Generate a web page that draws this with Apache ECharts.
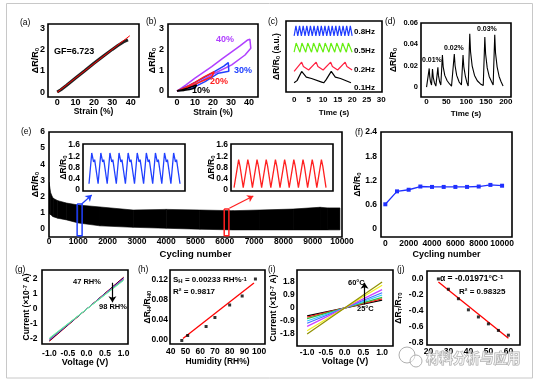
<!DOCTYPE html>
<html><head><meta charset="utf-8">
<script src="https://cdn.jsdelivr.net/npm/echarts@6/dist/echarts.min.js"></script>
<style>html,body{margin:0;padding:0;background:#fff}#c{width:541px;height:383px}</style>
</head><body><div id="c"></div>
<script>
// ---------- data ----------
// (a) strain response
const aStrain = [0, 2, 5, 10, 15, 20, 25, 30, 33, 36, 38.5];
const aDR = [0, 0.11, 0.31, 0.66, 1.0, 1.35, 1.68, 2.0, 2.18, 2.35, 2.45];
const aFitX = [0, 39.5];
const aFitY = [-0.01, 2.64];
// (b) hysteresis loops [strain, dR/R0]
const b10 = [[0,0],[3,0.06],[6,0.14],[9,0.23],[10.9,0.29],[10,0.14],[7,0.07],[4,0.03],[0,0]];
const b20 = [[0,0],[5,0.18],[10,0.42],[15,0.68],[20.7,0.93],[19.3,0.69],[15,0.52],[11.7,0.39],[6,0.15],[0,0]];
const b30 = [[0,0],[7,0.28],[14,0.6],[21,0.95],[26,1.2],[28.5,1.37],[29.4,1.42],[28.8,0.95],[23,0.86],[15.6,0.45],[8.1,0.13],[0,0]];
const b40 = [[0,0],[5,0.3],[10,0.62],[19.3,1.18],[25,1.55],[30,1.87],[35,2.18],[39.3,2.47],[40.5,2.5],[41,2.07],[37.8,1.74],[30.4,1.26],[21,0.86],[11.7,0.39],[5,0.12],[0,0]];
// (c) frequency response (a.u.)
const cBlueT = [0,0.625,1.25,1.875,2.5,3.125,3.75,4.375,5,5.625,6.25,6.875,7.5,8.125,8.75,9.375,10,10.625,11.25,11.875,12.5,13.125,13.75,14.375,15,15.625,16.25,16.875,17.5,18.125,18.75,19.375,20];
const cBlueV = [7.9,9.3,7.9,9.3,7.9,9.3,7.9,9.3,7.9,9.3,7.9,9.3,7.9,9.3,7.9,9.3,7.9,9.3,7.9,9.3,7.9,9.3,7.9,9.3,7.9,9.3,7.9,9.3,7.9,9.3,7.9,9.3,7.9];
const cGreenT = [0,0.7,2,2.7,4,4.7,6,6.7,8,8.7,10,10.7,12,12.7,14,14.7,16,16.7,18,18.7,20];
const cGreenV = [5.6,6.9,5.6,6.9,5.6,6.9,5.6,6.9,5.6,6.9,5.6,6.9,5.6,6.9,5.6,6.9,5.6,6.9,5.6,6.9,5.6];
const cRedT = [0,2.6,3.2,5,5.3,7.6,8.2,10,10.3,12.6,13.2,15,15.3,17.6,18.2,20];
const cRedV = [2.9,4.2,3.6,3.1,3.0,4.2,3.6,3.1,3.0,4.2,3.6,3.1,3.0,4.2,3.6,3.1];
const cBlackT = [0,1,2.6,4.2,6,9.5,10.2,11,12.8,14.2,16,19.6];
const cBlackV = [1.3,1.6,2.9,2.1,1.9,1.4,1.3,1.7,2.9,2.1,1.9,1.3];
// (d) small strain response [time, dR/R0]
const dPts = [[0,0],[5,0],[6.7,0.0175],[8,0.010],[10,0.005],[12.6,0.002],[14,0.001],[15,0.017],[17,0.009],[20,0.004],[23.5,0.001],[27,0.001],[28.6,0.0185],[30,0.011],[33,0.005],[36,0.002],[39,0.001],[40,0.030],[42,0.019],[46,0.011],[52,0.006],[58,0.003],[63,0.001],[68,0.001],[70,0.031],[72,0.020],[76,0.011],[82,0.005],[88,0.002],[91,0.001],[92,0.030],[94,0.019],[98,0.010],[102,0.004],[105,0.001],[107,0.001],[109,0.050],[111,0.033],[115,0.020],[121,0.011],[128,0.006],[136,0.003],[143,0.0015],[146,0.001],[147,0.047],[149,0.031],[153,0.018],[158,0.010],[164,0.005],[168,0.002],[171,0.001],[172,0.049],[174,0.032],[178,0.019],[183,0.010],[188,0.005],[193,0.001]];
// (e) cycling envelope
const eX = [0, 60, 140, 300, 600, 1000, 1740, 2870, 4000, 5150, 6280, 7200, 8330, 9250, 9520, 9930];
const eUpper = [2.9, 2.2, 1.9, 1.75, 1.6, 1.48, 1.36, 1.17, 1.21, 1.17, 1.13, 1.17, 1.23, 1.34, 1.3, 1.3];
const eLower = [0.95, 0.88, 0.76, 0.66, 0.56, 0.37, 0.19, 0.1, 0.04, -0.02, -0.06, -0.06, -0.06, -0.06, -0.06, -0.06];
const eBlueRect = [[960,1.55],[1130,1.55],[1130,-0.43],[960,-0.43],[960,1.55]];
const eRedRect = [[5980,1.23],[6140,1.23],[6140,-0.43],[5980,-0.43],[5980,1.23]];
// (e) insets
const ebX = [0,0.3,0.5,0.62,1,1.3,1.5,1.62,2,2.3,2.5,2.62,3,3.3,3.5,3.62,4,4.3,4.5,4.62,5,5.3,5.5,5.62,6,6.3,6.5,6.62,7,7.3,7.5,7.62,8,8.3,8.5,8.62,9,9.3,9.5,9.62,10];
const ebY = [0.22,1.32,1.0,1.08,0.22,1.32,1.0,1.08,0.22,1.32,1.0,1.08,0.22,1.32,1.0,1.08,0.22,1.32,1.0,1.08,0.22,1.32,1.0,1.08,0.22,1.32,1.0,1.08,0.22,1.32,1.0,1.08,0.22,1.32,1.0,1.08,0.22,1.32,1.0,1.08,0.22];
const erX = [0,0.5,0.65,0.75,1,1.5,1.65,1.75,2,2.5,2.65,2.75,3,3.5,3.65,3.75,4,4.5,4.65,4.75,5,5.5,5.65,5.75,6,6.5,6.65,6.75,7,7.5,7.65,7.75,8,8.5,8.65,8.75,9,9.5,9.65,9.75,10];
const erY = [0.08,1.08,0.85,0.9,0.08,1.08,0.85,0.9,0.08,1.08,0.85,0.9,0.08,1.08,0.85,0.9,0.08,1.08,0.85,0.9,0.08,1.08,0.85,0.9,0.08,1.08,0.85,0.9,0.08,1.08,0.85,0.9,0.08,1.08,0.85,0.9,0.08,1.08,0.85,0.9,0.08];
// (f)
const fX = [0,1000,2000,3000,4000,5000,6000,7000,8000,9000,10000];
const fY = [0.61,0.93,0.97,1.05,1.04,1.04,1.04,1.04,1.05,1.09,1.07];
// (g) I-V at humidity
const gV = [-1, 1];
const gIpos = [2.12, 2.09, 2.05, 2.01, 1.97, 1.94, 1.9];
const gIneg = [-2.15, -2.11, -2.07, -2.03, -2.0, -1.97, -1.93];
const gColors = ['#ff2020','#000000','#2040ff','#ff30ff','#a0a000','#20c8d8','#70f0a0'];
// (h)
const hRH = [47.5, 51.5, 64, 70, 80, 88.5, 97.5];
const hDR = [-0.001, 0.009, 0.027, 0.045, 0.07, 0.088, 0.122];
const hFitX = [48.3, 96.5];
const hFitY = [0.003, 0.114];
// (i) I-V at temperature 25..60 C
const iV = [-1, 1];
const iIpos = [0.55, 0.63, 0.73, 0.9, 1.06, 1.27, 1.57, 1.8];
const iIneg = [-0.55, -0.63, -0.73, -0.9, -1.06, -1.27, -1.57, -1.8];
const iColors = ['#000000','#ff2020','#30c040','#30c8ff','#4070ff','#cc40ff','#f0f020','#909000'];
// (j)
const jT = [25, 30, 35, 40, 45, 50, 55, 60];
const jDR = [0.0, -0.13, -0.25, -0.39, -0.48, -0.567, -0.65, -0.71];
const jFitX = [25, 60];
const jFitY = [-0.04, -0.75];
// tick labels
const aXt=[0,10,20,30,40], aYt=[0,1,2,3];
const cXt=[0,5,10,15,20,25,30];
const dXt=[0,50,100,150,200], dYt=[0,0.02,0.04,0.06];
const eXt=[0,1000,2000,3000,4000,5000,6000,7000,8000,9000,10000], eYt=[0,1,2,3,4,5,6];
const insYt=[0,0.4,0.8,1.2,1.6];
const fXt=[0,2000,4000,6000,8000,10000], fYt=[0,0.6,1.2,1.8,2.4];
const gXt=[-1,-0.5,0,0.5,1], gYt=[-2,-1,0,1,2];
const hXt=[40,50,60,70,80,90,100], hYt=[0,0.04,0.08,0.12];
const iXt=[-1,-0.5,0,0.5,1], iYt=[-1.8,-0.9,0,0.9,1.8];
const jXt=[20,30,40,50,60], jYt=[0,-0.2,-0.4,-0.6,-0.8];

// ---------- helpers ----------
const F = '"Liberation Sans", Arial, sans-serif';
const zip = (xs, ys) => xs.map((x, i) => [x, ys[i]]);
function rich(fs){
  const b = {fontWeight:'bold', fontFamily:F, color:'#000'};
  return {
    n: Object.assign({fontSize:fs}, b),
    s: Object.assign({fontSize:Math.round(fs*0.72), verticalAlign:'bottom'}, b),
    p: Object.assign({fontSize:Math.round(fs*0.72), verticalAlign:'top'}, b)
  };
}
function grid(l,t,w,h,bg){
  return {left:l, top:t, width:w, height:h, show:true, borderColor:'#000', borderWidth:1.6,
    backgroundColor:bg||'transparent', containLabel:false, outerBoundsMode:'none'};
}
function axis(gi, min, max, ticks, o){
  o = o || {};
  const has = ticks.length > 0;
  return {
    type:'value', gridIndex:gi, min:min, max:max,
    axisLine:{show:false, onZero:false}, splitLine:{show:false},
    axisTick:{show:false},
    axisLabel:{show:has, customValues:has?ticks:undefined, color:'#000', fontFamily:F, fontWeight:'bold',
      fontSize:o.fs||9, margin:(o.m==null?3:o.m), formatter:o.fmt||(v=>String(v))},
    name:o.name||'', nameLocation:'middle', nameGap:o.gap||10, nameMoveOverlap:false,
    nameTextStyle:{color:'#000', fontFamily:F, fontWeight:'bold', fontSize:o.nfs||9, rich:rich(o.nfs||9)}
  };
}
function L(gi, data, color, width, extra){
  return Object.assign({type:'line', xAxisIndex:gi, yAxisIndex:gi, data:data, symbol:'none',
    lineStyle:{color:color, width:width}, itemStyle:{color:color}, z:3, silent:true}, extra||{});
}
function arrowLine(gi, p1, p2, color){
  return {type:'line', xAxisIndex:gi, yAxisIndex:gi, data:[], symbol:'none', silent:true, z:5,
    markLine:{silent:true, symbol:['none','arrow'], symbolSize:6, animation:false,
      lineStyle:{color:color, width:1.2, type:'solid'}, label:{show:false},
      data:[[{coord:p1},{coord:p2}]]}};
}
function T(text, x, y, fs, o){
  o = o || {};
  const st = {text:text, x:x, y:y, fill:o.color||'#000', align:'left', verticalAlign:'middle',
    font:(o.bold===false?'normal ':'bold ')+fs+'px '+F};
  if (o.rich) st.rich = o.rich;
  return {type:'text', z:100, silent:true, style:st};
}
const DR0 = '{n|ΔR/R}{s|0}';
const f1 = v => v===0 ? '0' : v.toFixed(1);
const f2 = v => v.toFixed(2);

// ---------- option ----------
const grids = [
  grid(48,24,91,73),      //0 a
  grid(168,24,90,73),     //1 b
  grid(286,21,96,71),     //2 c
  grid(421,23,90,74),     //3 d
  grid(49,132,293,105),   //4 e
  grid(83,144,102,47,'#fff'),  //5 e inset blue
  grid(231,144,102,47,'#fff'), //6 e inset red
  grid(381,132,131,105),  //7 f
  grid(42,270,86,74),     //8 g
  grid(170,270,95,74),    //9 h
  grid(297,270,96,76),    //10 i
  grid(427,271,93,74)     //11 j
];
const xAxes = [
  axis(0,-5,44.5,aXt,{fs:9,m:1,name:'Strain (%)',nfs:8.5,gap:10.5}),
  axis(1,-5,45,aXt,{fs:9,m:1,name:'Strain (%)',nfs:8.5,gap:11.5}),
  axis(2,-2.8,30.3,cXt,{fs:8,m:4,name:'Time (s)',nfs:8,gap:16.5}),
  axis(3,-14,213,dXt,{fs:8,m:0.5,name:'Time (s)',nfs:8,gap:13}),
  axis(4,0,10000,eXt,{fs:8.5,m:0.5,name:'Cycling number',nfs:9.5,gap:12.5}),
  axis(5,-0.66,10.55,[],{}),
  axis(6,-0.33,10.76,[],{}),
  axis(7,-370,10850,fXt,{fs:8.5,m:2,name:'Cycling number',nfs:9,gap:13}),
  axis(8,-1.2,1.12,gXt,{fs:8.5,m:5,name:'Voltage (V)',nfs:9,gap:14,fmt:v=>v.toFixed(1)}),
  axis(9,39.5,104,hXt,{fs:8.5,m:3.5,name:'Humidity (RH%)',nfs:8.5,gap:13.5}),
  axis(10,-1.27,1.29,iXt,{fs:8.5,m:2,name:'Voltage (V)',nfs:9,gap:11,fmt:v=>v.toFixed(1)}),
  axis(11,19.3,65.8,jXt,{fs:8.5,m:2.2})
];
const yAxes = [
  axis(0,-0.23,3.19,aYt,{fs:9,m:3,name:DR0,nfs:9,gap:8}),
  axis(1,-0.29,3.24,aYt,{fs:9,m:4,name:DR0,nfs:9,gap:11}),
  axis(2,0,10,[],{name:'{n|ΔR/R}{s|0}{n| (a.u.)}',nfs:8.5,gap:5}),
  axis(3,-0.0092,0.06,dYt,{fs:7.5,m:3,name:DR0,nfs:8.5,gap:23,fmt:v=>v===0?'0':v.toFixed(2)}),
  axis(4,-0.5,6,eYt,{fs:8.5,m:4,name:DR0,nfs:9,gap:9}),
  axis(5,-0.04,1.64,insYt,{fs:8.5,m:3,name:DR0,nfs:8.5,gap:15,fmt:f1}),
  axis(6,-0.04,1.64,insYt,{fs:8.5,m:3,name:DR0,nfs:8.5,gap:15,fmt:f1}),
  axis(7,-0.2,2.4,fYt,{fs:8.5,m:4,name:DR0,nfs:8.5,gap:19,fmt:f1}),
  axis(8,-2.33,2.6,gYt,{fs:8.5,m:4.5,name:'{n|Current (×10}{p|-7}{n| A)}',nfs:8.5,gap:11}),
  axis(9,-0.008,0.14,hYt,{fs:8.5,m:2,name:'{n|ΔR}{s|H}{n|/R}{s|H0}',nfs:8.5,gap:18,fmt:f2}),
  axis(10,-2.63,2.63,iYt,{fs:8.5,m:2.3,name:'{n|Current (×10}{p|-7}{n| A)}',nfs:8.5,gap:19,fmt:f1}),
  axis(11,-0.834,0.1,jYt,{fs:8.5,m:3.5,name:'{n|ΔR}{s|T}{n|/R}{s|T0}',nfs:8.5,gap:24,fmt:v=>v.toFixed(1)})
];

const series = [];
// (a)
series.push(L(0, zip(aStrain,aDR), '#222', 3));
series.push(L(0, zip(aFitX,aFitY), '#ff0000', 1, {z:4}));
// (b)
series.push(L(1, b40, '#b040ff', 1.5));
series.push(L(1, b30, '#2040ff', 1.5));
series.push(L(1, b20, '#ff2020', 1.5));
series.push(L(1, b10, '#000000', 1.5));
// (c)
series.push(L(2, zip(cBlueT,cBlueV), '#1f3cff', 1.2));
series.push(L(2, zip(cGreenT,cGreenV), '#66ee11', 1.2));
series.push(L(2, zip(cRedT,cRedV), '#ff2040', 1.2));
series.push(L(2, zip(cBlackT,cBlackV), '#000000', 1.2));
// (d)
series.push(L(3, dPts, '#000000', 1.1));
// (e) band between lower and upper envelopes
series.push({type:'custom', xAxisIndex:4, yAxisIndex:4, silent:true, z:2, clip:true,
  data: eX.map((x,i)=>[x, eUpper[i], eLower[i]]),
  encode:{x:0, y:[1,2]},
  renderItem:function(params, api){
    const i = params.dataIndex;
    if (i >= eX.length - 1) return null;
    const pts = [api.coord([eX[i], eLower[i]]), api.coord([eX[i], eUpper[i]]),
                 api.coord([eX[i+1], eUpper[i+1]]), api.coord([eX[i+1], eLower[i+1]])];
    return {type:'polygon', shape:{points:pts}, style:{fill:'#000', stroke:'#000', lineWidth:0.6}};
  }});
series.push(L(4, eBlueRect, '#2040ff', 1.5, {z:4}));
series.push(L(4, eRedRect, '#ff2020', 1.5, {z:4}));
series.push(arrowLine(4, [1116,1.54], [1457,2.1], '#2040ff'));
series.push(arrowLine(4, [6154,1.28], [6973,2.04], '#ff2020'));
// insets
series.push(L(5, zip(ebX,ebY), '#2040ff', 1.3));
series.push(L(6, zip(erX,erY), '#ff2020', 1.3));
// (f)
series.push(L(7, zip(fX,fY), '#2030ff', 1.3, {symbol:'rect', symbolSize:4, showSymbol:true}));
// (g)
gIpos.forEach((v,k)=>{ series.push(L(8, [[gV[0],gIneg[k]],[gV[1],v]], gColors[k], 1)); });
series.push(arrowLine(8, [0.7,1.75], [0.7,0.45], '#000'));
// (h)
series.push(L(9, zip(hFitX,hFitY), '#ff0000', 1.3));
series.push({type:'scatter', xAxisIndex:9, yAxisIndex:9, data:zip(hRH,hDR), symbol:'rect', symbolSize:3,
  itemStyle:{color:'#000'}, z:5, silent:true});
// (i)
iIpos.forEach((v,k)=>{ series.push(L(10, [[iV[0],iIneg[k]],[iV[1],v]], iColors[k], 1.2)); });
series.push(arrowLine(10, [0.53,0.25], [0.53,1.75], '#000'));
// (j)
series.push(L(11, zip(jFitX,jFitY), '#ff0000', 1.3));
series.push({type:'scatter', xAxisIndex:11, yAxisIndex:11, data:zip(jT,jDR), symbol:'rect', symbolSize:3,
  itemStyle:{color:'#000'}, z:5, silent:true});

const R8 = rich(8), R85 = rich(8.5);
const graphics = [
  {type:'rect', z:0, silent:true, shape:{x:6.5, y:3.5, width:526, height:374.5},
    style:{fill:'none', stroke:'#c8c8c8', lineWidth:1}},
  T('(a)', 20, 23, 8.5, {bold:false}),
  T('GF=6.723', 54, 52, 9),
  T('(b)', 146, 22, 8.5, {bold:false}),
  T('40%', 216, 40, 9, {color:'#b040ff'}),
  T('30%', 234, 71, 9, {color:'#2040ff'}),
  T('20%', 210, 82, 9, {color:'#ff2020'}),
  T('10%', 192, 91, 9),
  T('(c)', 268, 22, 8.5, {bold:false}),
  T('0.8Hz', 354, 32, 8), T('0.5Hz', 354, 51, 8), T('0.2Hz', 354, 70, 8), T('0.1Hz', 354, 88, 8),
  T('(d)', 385, 22, 8.5, {bold:false}),
  T('0.01%', 422, 60, 7), T('0.02%', 444, 48, 7), T('0.03%', 477, 29, 7),
  T('(e)', 21, 132, 8.5, {bold:false}),
  T('(f)', 355, 133, 8.5, {bold:false}),
  T('(g)', 15, 270, 8.5, {bold:false}),
  T('47 RH%', 73, 282, 7.5), T('98 RH%', 99, 307, 7.5),
  T('(h)', 138, 270, 8.5, {bold:false}),
  T('{n|S}{s|H}{n| = 0.00233 RH%}{p|-1}', 173, 280, 8, {rich:R8}),
  T('R² = 0.9817', 173, 292, 8),
  T('(i)', 268, 270, 8.5, {bold:false}),
  T('60°C', 348, 283, 7.5), T('25°C', 357, 309, 7.5),
  T('(j)', 397, 270, 8.5, {bold:false}),
  T('{n|α = -0.01971°C}{p|-1}', 440, 279, 8.5, {rich:R85}),
  T('R² = 0.98325', 459, 292, 8),
  // watermark
  {type:'circle', z:101, silent:true, shape:{cx:407, cy:355, r:8}, style:{fill:'rgba(255,255,255,0.5)', stroke:'#b0b0b0', lineWidth:1}},
  {type:'circle', z:101, silent:true, shape:{cx:416, cy:361, r:6}, style:{fill:'rgba(255,255,255,0.5)', stroke:'#b0b0b0', lineWidth:1}},
  {type:'text', z:101, silent:true, style:{text:'材料分析与应用', x:426, y:358, align:'left', verticalAlign:'middle',
    font:'bold 13.5px "Noto Sans CJK SC"', fill:'rgba(255,255,255,0.55)', stroke:'#a8a8a8', lineWidth:1}}
];

const chart = echarts.init(document.getElementById('c'), null, {renderer:'canvas'});
chart.setOption({
  animation:false,
  backgroundColor:'#fff',
  textStyle:{fontFamily:F},
  grid:grids, xAxis:xAxes, yAxis:yAxes, series:series, graphic:graphics
});
</script></body></html>
